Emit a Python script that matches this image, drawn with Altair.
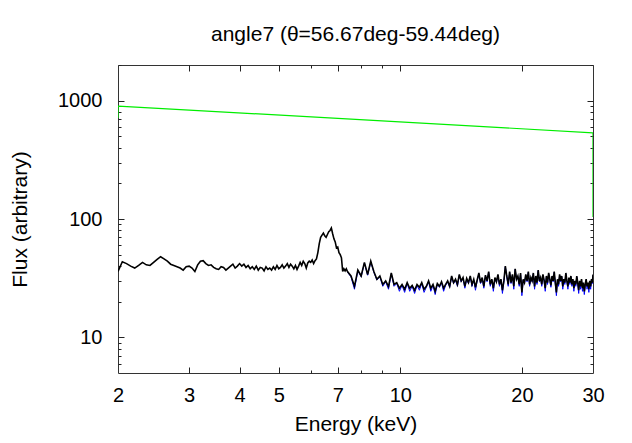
import altair as alt
import pandas as pd

# ---------------- data ----------------
energy_a = [
    2.00, 2.05, 2.10, 2.15, 2.20, 2.25, 2.30, 2.35, 2.40, 2.45,
    2.50, 2.55, 2.60, 2.65, 2.70, 2.75, 2.80, 2.85, 2.90, 2.95,
    3.00, 3.05, 3.10, 3.15, 3.20, 3.25, 3.30, 3.35, 3.40, 3.45,
    3.50, 3.55, 3.60, 3.65, 3.70, 3.75, 3.80, 3.85, 3.90, 3.95,
    4.00, 4.05, 4.10, 4.15, 4.20, 4.25, 4.30, 4.35, 4.40, 4.45,
    4.50, 4.55, 4.60, 4.65, 4.70, 4.75, 4.80, 4.85, 4.90, 4.95,
    5.00, 5.05, 5.10, 5.15, 5.20, 5.25, 5.30, 5.35, 5.40, 5.45,
    5.50, 5.55, 5.60, 5.65, 5.70, 5.75, 5.80, 5.85, 5.90, 5.95,
    6.00, 6.05, 6.10, 6.15, 6.20, 6.25, 6.30, 6.35, 6.40, 6.45,
    6.50, 6.55, 6.60, 6.65, 6.70, 6.75, 6.80, 6.85, 6.90, 6.95,
    7.00, 7.05, 7.10, 7.15, 7.20, 7.25, 7.30, 7.35,
]
flux_a = [
    36, 43.5, 42, 40, 38.5, 40.5, 43, 41, 40.5, 43,
    45.5, 48, 46, 44, 41.5, 40.5, 39.5, 38.5, 37, 39.5,
    40, 38.5, 36, 41, 44, 44.5, 42, 40.5, 41, 39,
    38, 37.5, 39.5, 39, 37, 38.5, 40, 41.5, 38.5, 40,
    42, 40, 41.5, 39, 40.5, 38, 39.5, 37.5, 40, 37,
    39, 38.5, 36.5, 39.5, 37.5, 38.5, 37, 39.5, 37.5, 40.5,
    38, 39, 41, 38.5, 40, 42, 39, 41.5, 40, 38,
    40.5, 37.5, 40, 43, 40.5, 44, 42, 38.5, 42.5, 44,
    43, 45, 42, 44.5, 46, 52, 62, 70, 73, 76,
    72, 70, 74, 78, 80, 84, 75, 68, 64, 57,
    58, 52, 50, 47, 36, 38, 36.5, 38,
]
energy_b = [
    7.40, 7.55, 7.70, 7.85, 8.00, 8.15, 8.30, 8.45, 8.60, 8.75,
    8.90, 9.05, 9.20, 9.35, 9.50, 9.65, 9.80, 9.95, 10.10, 10.25,
    10.40, 10.55, 10.70, 10.85, 11.00, 11.15, 11.30, 11.45, 11.60, 11.75,
    11.90, 12.05, 12.20, 12.35, 12.50, 12.65, 12.80, 12.95, 13.10, 13.25,
    13.40, 13.55, 13.70, 13.85, 14.00, 14.15, 14.30, 14.45, 14.60, 14.75,
    14.90, 15.05, 15.20, 15.35, 15.50, 15.65, 15.80, 15.95, 16.10, 16.25,
    16.40, 16.55, 16.70, 16.85, 17.00, 17.15, 17.30, 17.45, 17.60, 17.75,
    17.90, 18.05, 18.20, 18.35, 18.50, 18.65, 18.80, 18.95, 19.10, 19.25,
    19.40, 19.55, 19.70, 19.85, 20.00, 20.15, 20.30, 20.45, 20.60, 20.75,
    20.90, 21.05, 21.20, 21.35, 21.50, 21.65, 21.80, 21.95, 22.10, 22.25,
    22.40, 22.55, 22.70, 22.85, 23.00, 23.15, 23.30, 23.45, 23.60, 23.75,
    23.90, 24.05, 24.20, 24.35, 24.50, 24.65, 24.80, 24.95, 25.10, 25.25,
    25.40, 25.55, 25.70, 25.85, 26.00, 26.15, 26.30, 26.45, 26.60, 26.75,
    26.90, 27.05, 27.20, 27.35, 27.50, 27.65, 27.80, 27.95, 28.10, 28.25,
    28.40, 28.55, 28.70, 28.85, 29.00, 29.15, 29.30, 29.45, 29.60, 29.75,
    29.90, 30.00,
]
flux_b = [
    36, 33, 27, 37, 33, 43, 34, 44, 36, 31,
    33, 28, 30, 27, 35, 28, 29, 26, 28, 25.5,
    29, 26, 27.5, 25, 28, 26.5, 29, 25.5, 27, 30,
    26, 28, 24.5, 28.5, 27, 29.5, 26, 28, 30, 27,
    33, 29, 31, 28, 34, 30, 32, 27, 31.5, 29,
    33, 28, 31, 26.5, 30.5, 35, 29, 32, 27, 33.5,
    30, 36, 28, 31, 26, 32, 29.5, 34, 28, 31,
    25, 30, 40, 33, 28, 36, 29, 34, 27, 38,
    31, 33, 28, 35, 24, 31, 29, 34, 30, 36,
    28, 32, 30, 35, 27, 33, 29, 37, 30, 32,
    28, 34, 30.5, 26, 33, 29, 35, 31, 27.5, 33,
    30, 36, 29, 24, 31, 28, 34, 30, 33, 27,
    31, 29, 35, 30, 27, 32, 29, 33, 28, 31,
    26, 30, 28, 33, 29, 25, 30, 27, 31, 26,
    29, 24.5, 28, 31, 27, 29, 25.5, 30, 27, 31,
    29, 34,
]
# blue spectrum: almost identical to the black one, peeking out at the dips
flux_blue = [
    35.5, 32.5, 25.5, 36.5, 32.5, 42.5, 33.5, 43.5, 35.5, 30.5,
    32.5, 27, 29.5, 25.5, 34.5, 27, 28.5, 24.5, 27.5, 24,
    28.5, 24.5, 27, 23.5, 27.5, 25, 28.5, 24, 26.5, 29.5,
    24.5, 27.5, 23, 28, 26.5, 29, 24.5, 27.5, 29.5, 26.5,
    32.5, 28.5, 30.5, 27, 33.5, 29.5, 31.5, 26, 31, 28.5,
    32.5, 27, 30.5, 25, 30, 34.5, 28.5, 31.5, 26, 33,
    29.5, 35.5, 27, 30.5, 24.5, 31.5, 29, 33.5, 27, 30.5,
    23.5, 29.5, 39.5, 32.5, 27, 35.5, 28.5, 33.5, 25.5, 37.5,
    30.5, 32.5, 27, 34.5, 22.5, 30.5, 28.5, 33.5, 29.5, 35.5,
    27, 31.5, 29.5, 34.5, 25.5, 32.5, 28, 36.5, 29.5, 31.5,
    27, 33.5, 30, 24.5, 32.5, 28, 34.5, 30.5, 26.5, 32.5,
    29.5, 35.5, 28, 22.5, 30.5, 27, 33.5, 29.5, 32.5, 25.5,
    30.5, 28, 34.5, 29.5, 25.5, 31.5, 28, 32.5, 27, 30.5,
    24.5, 29.5, 27, 32.5, 28, 23.5, 29.5, 25.5, 30.5, 24.5,
    28, 23, 27, 30.5, 25.5, 28.5, 24, 29.5, 25.5, 30.5,
    28.5, 33.5,
]
green_energy = [2, 2, 30, 30]
green_flux = [713, 900, 535, 104]

x_labels = [2, 3, 4, 5, 7, 10, 20, 30]
x_major = [3, 4, 5, 7, 10, 20]
x_minor = [6, 8, 9]
y_labels = [10, 100, 1000]
y_minor = [6, 7, 8, 9, 20, 30, 40, 50, 60, 70, 80, 90,
           200, 300, 400, 500, 600, 700, 800, 900, 2000]

black = pd.DataFrame({"energy": energy_a + energy_b, "flux": flux_a + flux_b})
blue = pd.DataFrame({"energy": energy_b, "flux": flux_blue})
green = pd.DataFrame({"energy": green_energy, "flux": green_flux,
                      "idx": list(range(len(green_energy)))})

FONT = "Liberation Sans"
TICK = "#222222"
xscale = alt.Scale(type="log", domain=[2, 30], nice=False)
yscale = alt.Scale(type="log", domain=[5, 2000], nice=False)


def tick_axis(orient, values, size):
    return alt.Axis(orient=orient, values=values, tickSize=size, offset=-size,
                    labels=False, domain=False, grid=False, tickColor=TICK,
                    tickWidth=1)


x_lab = alt.Axis(orient="bottom", values=x_labels, ticks=False, domain=False,
                 grid=False, format="d", labelFont=FONT, labelFontSize=20,
                 labelColor="black", labelPadding=12, labelFlush=False,
                 labelOverlap=False, titleFont=FONT,
                 titleFontSize=21, titleFontWeight="normal", titleColor="black",
                 titlePadding=8)
y_lab = alt.Axis(orient="left", values=y_labels, ticks=False, domain=False,
                 grid=False, format="d", labelFont=FONT, labelFontSize=20,
                 labelColor="black", labelPadding=16, labelFlush=False,
                 titleFont=FONT,
                 titleFontSize=21, titleFontWeight="normal", titleColor="black",
                 titlePadding=27)

blue_layer = alt.Chart(blue).mark_line(color="#0000ff", strokeWidth=1, clip=True).encode(
    x=alt.X("energy:Q", scale=xscale, axis=x_lab, title="Energy (keV)"),
    y=alt.Y("flux:Q", scale=yscale, axis=y_lab, title="Flux (arbitrary)"),
)
black_layer = alt.Chart(black).mark_line(color="#000000", strokeWidth=1.6, clip=True).encode(
    x=alt.X("energy:Q", scale=xscale, axis=tick_axis("bottom", x_major, 6), title=None),
    y=alt.Y("flux:Q", scale=yscale, axis=tick_axis("left", y_labels, 6), title=None),
)
green_layer = alt.Chart(green).mark_line(color="#00ee00", strokeWidth=1.2, clip=True).encode(
    x=alt.X("energy:Q", scale=xscale, axis=tick_axis("top", x_major, 6), title=None),
    y=alt.Y("flux:Q", scale=yscale, axis=tick_axis("right", y_labels, 6), title=None),
    order="idx:Q",
)
minor_a = alt.Chart(green).mark_line(opacity=0, clip=True).encode(
    x=alt.X("energy:Q", scale=xscale, axis=tick_axis("bottom", x_minor, 3), title=None),
    y=alt.Y("flux:Q", scale=yscale, axis=tick_axis("left", y_minor, 3), title=None),
    order="idx:Q",
)
minor_b = alt.Chart(green).mark_line(opacity=0, clip=True).encode(
    x=alt.X("energy:Q", scale=xscale, axis=tick_axis("top", x_minor, 3), title=None),
    y=alt.Y("flux:Q", scale=yscale, axis=tick_axis("right", y_minor, 3), title=None),
    order="idx:Q",
)

chart = alt.layer(blue_layer, black_layer, green_layer, minor_a, minor_b).resolve_axis(
    x="independent", y="independent"
).properties(
    width=475,
    height=308,
    autosize=alt.AutoSizeParams(type="none"),
    padding={"left": 110, "top": 57, "right": 31, "bottom": 62},
    title=alt.TitleParams("angle7 (θ=56.67deg-59.44deg)", font=FONT, fontSize=21,
                          fontWeight="normal", color="black", offset=20,
                          anchor="middle"),
).configure_view(stroke="#333333", strokeWidth=1)

chart.save("out.html", embed_options={"renderer": "svg", "actions": False})
